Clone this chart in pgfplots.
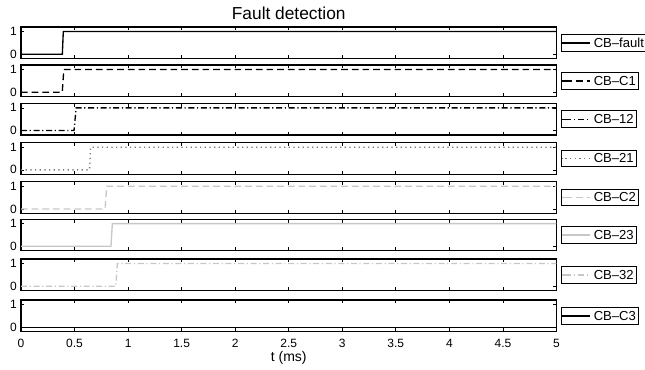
\documentclass[border=0pt]{standalone}
\usepackage{fontspec}
\setmainfont{Liberation Sans}
\usepackage{pgfplots}
\pgfplotsset{compat=1.18}
\definecolor{lg}{gray}{0.78}
\definecolor{dg}{gray}{0.45}
\pgfplotsset{
  sub/.style={
    scale only axis,
    width=401.6pt, height=23.8pt,
    anchor=north west,
    xmin=0, xmax=5, ymin=-0.2, ymax=1.2,
    xtick={0,0.5,1,1.5,2,2.5,3,3.5,4,4.5,5},
    ytick={0,1},
    xticklabels={},
    tick align=inside,
    tick pos=both,
    major tick length=2.6pt,
    axis line style={line width=0.85pt},
    every tick/.style={black, line width=0.5pt},
    yticklabel style={font=\fontsize{9}{10}\selectfont, anchor=east, inner sep=0pt, xshift=-3pt},
    xticklabel style={font=\fontsize{9}{10}\selectfont, anchor=base, inner sep=0pt, yshift=-11.7pt},
    /pgf/number format/assume math mode=true,
    legend style={at={(1,0.5)}, anchor=west, xshift=3.4pt, draw=black, line width=0.7pt,
      fill=white, inner sep=0pt, column sep=0pt,
      nodes={inner xsep=2pt, inner ysep=2.5pt, text height=7pt, text depth=0.5pt},
      font=\fontsize{9.8}{11}\selectfont},
    legend cell align=left,
    legend image code/.code={\path (0pt,0pt) -- (2.5pt,0pt); \draw[##1] (2.5pt,0pt) -- (21.25pt,0pt);},
    every axis title/.style={at={(0.5,1)}, anchor=base, yshift=5.6pt, inner sep=0pt,
      font=\fontsize{13}{15}\selectfont},
  },
  dl/.style={line width=1pt},
}
\begin{document}
\begin{tikzpicture}
\path[use as bounding box] (0,0) rectangle (483.75pt,-277.5pt);

\begin{axis}[sub, at={(15.75pt,-20.25pt)}, title={Fault detection}]
\addplot[dl, black] coordinates {(0,0) (0.386,0) (0.395,1) (5,1)};
\addlegendentry{CB--fault}
\end{axis}

\begin{axis}[sub, at={(15.75pt,-48.75pt)}]
\addplot[dl, black, dash pattern=on 5pt off 3pt] coordinates {(0,0) (0.385,0) (0.40,1) (5,1)};
\addlegendentry{CB--C1}
\end{axis}

\begin{axis}[sub, at={(15.75pt,-77.5pt)}]
\addplot[dl, black, dash pattern=on 4.5pt off 2pt on 0.9pt off 2pt] coordinates {(0,0) (0.495,0) (0.515,1) (5,1)};
\addlegendentry{CB--12}
\end{axis}

\begin{axis}[sub, at={(15.75pt,-107pt)}]
\addplot[dl, dg, dash pattern=on 0.9pt off 2.6pt] coordinates {(0,0) (0.64,0) (0.65,1) (5,1)};
\addlegendentry{CB--21}
\end{axis}

\begin{axis}[sub, at={(15.75pt,-136.3pt)}]
\addplot[dl, lg, dash pattern=on 5pt off 3pt] coordinates {(0,0) (0.785,0) (0.80,1) (5,1)};
\addlegendentry{CB--C2}
\end{axis}

\begin{axis}[sub, at={(15.75pt,-164.3pt)}]
\addplot[dl, lg] coordinates {(0,0) (0.84,0) (0.853,1) (5,1)};
\addlegendentry{CB--23}
\end{axis}

\begin{axis}[sub, at={(15.75pt,-194.25pt)}]
\addplot[dl, lg, dash pattern=on 4.5pt off 2pt on 0.9pt off 2pt] coordinates {(0,0) (0.885,0) (0.90,1) (5,1)};
\addlegendentry{CB--32}
\end{axis}

\begin{axis}[sub, at={(15.75pt,-225pt)},
  xticklabels={0,0.5,1,1.5,2,2.5,3,3.5,4,4.5,5},
  xlabel={t (ms)},
  xlabel style={font=\fontsize{10.5}{12}\selectfont, at={(0.5,0)}, anchor=base, yshift=-22pt, inner sep=0pt}]
\addplot[dl, black] coordinates {(0,0) (5,0)};
\addlegendentry{CB--C3}
\end{axis}
\end{tikzpicture}
\end{document}
